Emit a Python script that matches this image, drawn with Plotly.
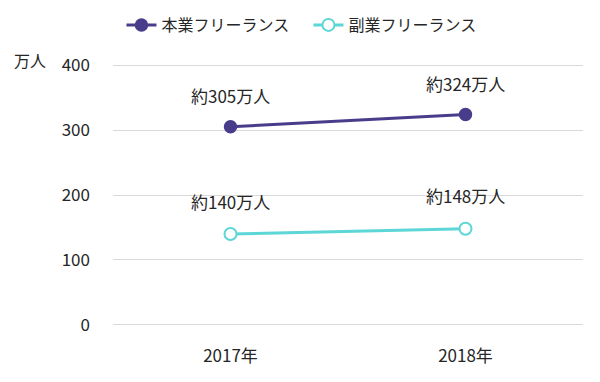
import plotly.graph_objects as go

years = ["2017年", "2018年"]
main_free = [305, 324]
side_free = [140, 148]
series_names = ["本業フリーランス", "副業フリーランス"]
y_ticks = [0, 100, 200, 300, 400]

FONT = "Noto Sans CJK JP, Meiryo, sans-serif"
purple = "#483D8B"
teal = "#5CD6D6"
txt = "#262626"
FS = 17

fig = go.Figure()
fig.add_trace(go.Scatter(
    x=years, y=main_free, name=series_names[0], mode="lines+markers",
    line=dict(color=purple, width=3),
    marker=dict(size=12, color=purple, line=dict(color=purple, width=1.5)),
))
fig.add_trace(go.Scatter(
    x=years, y=side_free, name=series_names[1], mode="lines+markers",
    line=dict(color=teal, width=3),
    marker=dict(size=12, color="white", line=dict(color=teal, width=2)),
))

for x, v in zip(years, main_free):
    fig.add_annotation(x=x, y=v, text=f"約{v}万人", showarrow=False, yshift=31,
                       font=dict(size=FS, color=txt, family=FONT))
for x, v in zip(years, side_free):
    fig.add_annotation(x=x, y=v, text=f"約{v}万人", showarrow=False, yshift=33,
                       font=dict(size=FS, color=txt, family=FONT))

# plot area 63..327 px (264 px); "万人" at ~60 px
fig.add_annotation(xref="paper", yref="paper", x=-0.177, y=(327 - 60) / 264,
                   xanchor="center", yanchor="middle", text="万人",
                   showarrow=False, font=dict(size=16, color=txt, family=FONT))

fig.update_layout(
    width=600, height=382,
    margin=dict(l=113, r=17, t=63, b=55, autoexpand=False),
    paper_bgcolor="white", plot_bgcolor="white",
    font=dict(family=FONT, size=FS, color=txt),
    showlegend=True,
    legend=dict(orientation="h", x=0.018, xanchor="left", y=(327 - 25) / 264,
                yanchor="middle", entrywidth=142, entrywidthmode="pixels",
                font=dict(size=16, color=txt, family=FONT), itemwidth=30,
                tracegroupgap=0),
    xaxis=dict(type="category", range=[-0.5, 1.5], showgrid=False, zeroline=False,
               showline=False, ticks="", ticklabelstandoff=17, automargin=False,
               tickfont=dict(size=FS, color=txt)),
    yaxis=dict(range=[-3.1, 403.1], tickvals=y_ticks, showgrid=True, gridcolor="#D9D9D9",
               gridwidth=1, zeroline=False, showline=False, ticks="", automargin=False,
               ticklabelstandoff=22, tickfont=dict(size=FS, color=txt)),
)

fig.write_html("out.html", config={"displayModeBar": False},
               post_script="document.body.style.margin='0';document.body.style.padding='0';")
